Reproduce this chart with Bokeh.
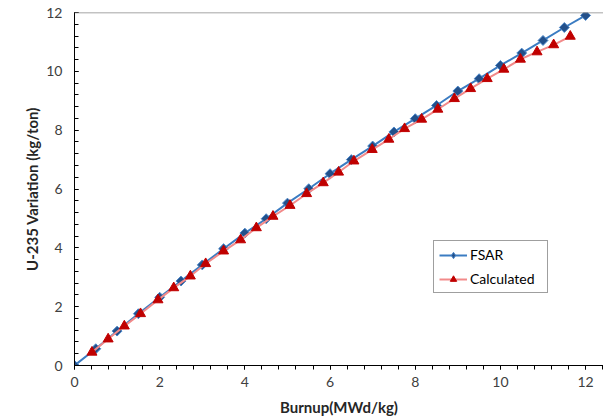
import math
from bokeh.plotting import figure
from bokeh.models import Range1d, SingleIntervalTicker, Span, Legend, LegendItem
from bokeh.embed import file_html
from bokeh.resources import INLINE

# FSAR data
fsar_burnup = [0, 0.5, 1.0, 1.5, 2.0, 2.5, 3.0, 3.5, 4.0, 4.5, 5.0, 5.5, 6.0,
               6.5, 7.0, 7.5, 8.0, 8.5, 9.0, 9.5, 10.0, 10.5, 11.0, 11.5, 12.0]
fsar_u235 = [0, 0.57, 1.17, 1.76, 2.32, 2.87, 3.42, 3.97, 4.50, 4.99, 5.52, 6.01, 6.52,
             7.00, 7.46, 7.94, 8.39, 8.84, 9.33, 9.75, 10.20, 10.62, 11.05, 11.49, 11.90]

# Calculated data
calc_burnup = [0.41, 0.79, 1.17, 1.55, 1.96, 2.33, 2.72, 3.08, 3.50, 3.90, 4.27, 4.66,
               5.06, 5.45, 5.84, 6.20, 6.56, 6.99, 7.38, 7.75, 8.15, 8.53, 8.92, 9.30,
               9.69, 10.08, 10.47, 10.86, 11.25, 11.64]
calc_u235 = [0.45, 0.90, 1.34, 1.76, 2.23, 2.64, 3.04, 3.46, 3.89, 4.27, 4.68, 5.07,
             5.44, 5.84, 6.21, 6.57, 6.95, 7.34, 7.69, 8.05, 8.37, 8.71, 9.07, 9.41,
             9.75, 10.07, 10.41, 10.66, 10.90, 11.19]

FONT = "Lato"

p = figure(width=603, height=418, output_backend="svg", toolbar_location=None,
           x_range=Range1d(0, 12.42), y_range=Range1d(0, 12),
           min_border_left=74, min_border_right=0, min_border_top=12, min_border_bottom=53)
p.outline_line_color = None
p.xgrid.visible = False
p.ygrid.visible = False
p.background_fill_color = "white"
p.border_fill_color = "white"

p.xaxis.ticker = SingleIntervalTicker(interval=2, num_minor_ticks=5)
p.yaxis.ticker = SingleIntervalTicker(interval=2, num_minor_ticks=5)

for ax in (p.xaxis[0], p.yaxis[0]):
    ax.axis_line_color = "#000000"
    ax.major_tick_line_color = "#000000"
    ax.minor_tick_line_color = "#000000"
    ax.major_label_text_font = FONT
    ax.major_label_text_font_size = "14px"
    ax.major_label_text_color = "#404040"
    ax.axis_label_text_font = FONT
    ax.axis_label_text_font_size = "15px"
    ax.axis_label_text_font_style = "bold"
    ax.axis_label_text_color = "#262626"

p.xaxis.major_tick_in = 0
p.xaxis.major_tick_out = 4
p.xaxis.minor_tick_in = 0
p.xaxis.minor_tick_out = 4
p.xaxis.major_label_standoff = 7
p.xaxis.axis_label = "Burnup(MWd/kg)"
p.xaxis.axis_label_standoff = 8

p.yaxis.major_tick_in = 4
p.yaxis.major_tick_out = 0
p.yaxis.minor_tick_in = 4
p.yaxis.minor_tick_out = 0
p.yaxis.major_label_standoff = 12
p.yaxis.axis_label = "U-235 Variation (kg/ton)"
p.yaxis.axis_label_standoff = 2

p.add_layout(Span(location=12, dimension="width", line_color="#868686", line_width=1.5))

l1 = p.line(fsar_burnup, fsar_u235, line_color="#3B7CC2", line_width=2)
s1 = p.scatter(fsar_burnup, fsar_u235, marker="square", angle=math.pi / 4, size=7,
               fill_color="#23508A", line_color="#4A86C8", line_width=1)
l2 = p.line(calc_burnup, calc_u235, line_color="#F28A8A", line_width=2)
s2 = p.scatter(calc_burnup, calc_u235, marker="triangle", size=10,
               fill_color="#C00000", line_color="#C00000", line_width=1)
# legend-only diamond glyph (not drawn in the plot: NaN position)
s1_leg = p.scatter(x=[float("nan")], y=[float("nan")], marker="diamond", size=12,
                   fill_color="#23508A", line_color="#4A86C8", line_width=1)

legend = Legend(items=[LegendItem(label="FSAR", renderers=[l1, s1_leg]),
                       LegendItem(label="Calculated", renderers=[l2, s2])],
                location=(359, 72), orientation="vertical")
legend.label_text_font = FONT
legend.label_text_font_size = "14px"
legend.label_text_color = "#000000"
legend.border_line_color = "#404040"
legend.border_line_width = 1
legend.padding = 5
legend.spacing = 7
legend.label_height = 16
legend.glyph_height = 16
legend.glyph_width = 28
legend.label_standoff = 3
legend.label_width = 72
legend.margin = 0
p.add_layout(legend, "center")

open("out.html", "w").write(file_html(p, INLINE))
